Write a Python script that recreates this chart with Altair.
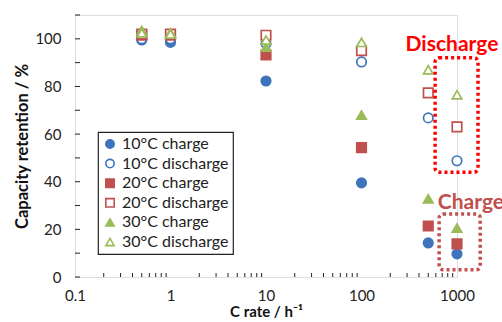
import altair as alt
import pandas as pd

rates = [0.5, 1, 10, 100, 500, 1000]
series_names = ["10°C charge", "10°C discharge", "20°C charge",
                "20°C discharge", "30°C charge", "30°C discharge"]
v10_charge = [99.5, 98.5, 82.3, 39.5, 14.3, 9.7]
v10_discharge = [100.0, 100.0, 98.0, 90.3, 66.8, 48.8]
v20_charge = [101.5, 101.5, 93.2, 54.3, 21.4, 13.9]
v20_discharge = [102.0, 102.0, 101.5, 95.0, 77.3, 63.0]
v30_charge = [103.5, 102.5, 96.5, 68.0, 32.8, 20.6]
v30_discharge = [102.5, 102.0, 99.5, 98.5, 87.0, 76.5]

colors = ["#3F74BC", "#3F74BC", "#C0504D", "#C0504D", "#9BBB59", "#9BBB59"]
fills = ["#3F74BC", "white", "#C0504D", "white", "#9BBB59", "white"]
shapes = ["circle", "circle", "square", "square", "triangle-up", "triangle-up"]

x_major = [0.1, 1, 10, 100, 1000]
x_minor = [m * d for d in [0.1, 1, 10, 100] for m in range(2, 10)]
y_ticks = list(range(0, 111, 10))

all_vals = [v10_charge, v10_discharge, v20_charge, v20_discharge, v30_charge, v30_discharge]
rows = []
for i, (name, vals) in enumerate(zip(series_names, all_vals)):
    for r, v in zip(rates, vals):
        rows.append({"rate": r, "retention": v, "series": name, "order": i})
df = pd.DataFrame(rows)

W, H = 382, 262
FONT = "Lato"

xscale = alt.Scale(type="log", domain=[0.1, 1000], nice=False)
yscale = alt.Scale(domain=[0, 110], nice=False)

points = alt.Chart(df).mark_point(filled=False, size=90, strokeWidth=1.7, opacity=1).encode(
    x=alt.X("rate:Q", scale=xscale,
            axis=alt.Axis(values=x_major, format="~g", ticks=False, domain=False, grid=False,
                          labelFontSize=15, labelPadding=11, labelColor="#222",
                          title="C rate / h⁻¹", titleFontSize=15, titleFontWeight="bold",
                          titlePadding=1, titleColor="#111", labelFlush=False)),
    y=alt.Y("retention:Q", scale=yscale,
            axis=alt.Axis(values=list(range(0, 101, 20)), ticks=False, domain=False, grid=False,
                          labelFontSize=15, labelPadding=14, labelColor="#222",
                          title="Capacity retention / %", titleFontSize=16.5, titleFontWeight="bold",
                          titlePadding=4, titleColor="#111")),
    stroke=alt.Stroke("series:N", sort=series_names,
                      scale=alt.Scale(domain=series_names, range=colors), legend=alt.Legend(title=None)),
    fill=alt.Fill("series:N", sort=series_names,
                  scale=alt.Scale(domain=series_names, range=fills), legend=alt.Legend(title=None)),
    shape=alt.Shape("series:N", sort=series_names,
                    scale=alt.Scale(domain=series_names, range=shapes), legend=alt.Legend(title=None)),
    order=alt.Order("order:Q"),
)

xminor_df = pd.DataFrame({"x": x_minor})
xminor = alt.Chart(xminor_df).mark_rule(color="#222", strokeWidth=1).encode(
    x=alt.X("x:Q", scale=xscale),
    y=alt.value(H), y2=alt.value(H - 4))

yt_df = pd.DataFrame({"y": y_ticks})
yminor = alt.Chart(yt_df).mark_rule(color="#222", strokeWidth=1).encode(
    y=alt.Y("y:Q", scale=yscale),
    x=alt.value(0), x2=alt.value(5))

# annotation boxes
box_names = ["Discharge", "Charge"]
box_x1 = [590, 650]
box_x2 = [1660, 1750]
box_y1 = [44, 3]
box_y2 = [92, 26.5]
box_colors = ["#FF0000", "#C0504D"]
label_x = [886, 630]
label_y = [97.5, 31]
label_align = ["center", "left"]

ann_layers = []
for i in range(2):
    bdf = pd.DataFrame({"x1": [box_x1[i]], "x2": [box_x2[i]], "y1": [box_y1[i]], "y2": [box_y2[i]]})
    ann_layers.append(
        alt.Chart(bdf).mark_rect(fill=None, stroke=box_colors[i], strokeWidth=3.5,
                                 strokeDash=[3, 3], clip=False, cornerRadius=4).encode(
            x=alt.X("x1:Q", scale=xscale), x2="x2:Q",
            y=alt.Y("y1:Q", scale=yscale), y2="y2:Q"))
    ldf = pd.DataFrame({"x": [label_x[i]], "y": [label_y[i]], "t": [box_names[i]]})
    ann_layers.append(
        alt.Chart(ldf).mark_text(fontSize=21, fontWeight="bold", font=FONT, align=label_align[i],
                                 baseline="middle", clip=False, color=box_colors[i]).encode(
            x=alt.X("x:Q", scale=xscale), y=alt.Y("y:Q", scale=yscale), text="t:N"))

chart = alt.layer(xminor, yminor, points, *ann_layers).properties(
    width=W, height=H,
    padding={"left": 75, "top": 15, "right": 45, "bottom": 45},
    autosize=alt.AutoSizeParams(type="none"),
).configure_view(stroke="#222", strokeWidth=1.2).configure(
    font=FONT, background="white"
).configure_legend(
    orient="none", legendX=23, legendY=117, strokeColor="#222", strokeWidth=1.2,
    padding=4, labelFontSize=16, labelColor="#222", symbolSize=70, symbolStrokeWidth=1.6,
    rowPadding=3.6, labelOffset=4, fillColor="white"
)

chart.save("out.html", embed_options={"renderer": "svg", "actions": False})
